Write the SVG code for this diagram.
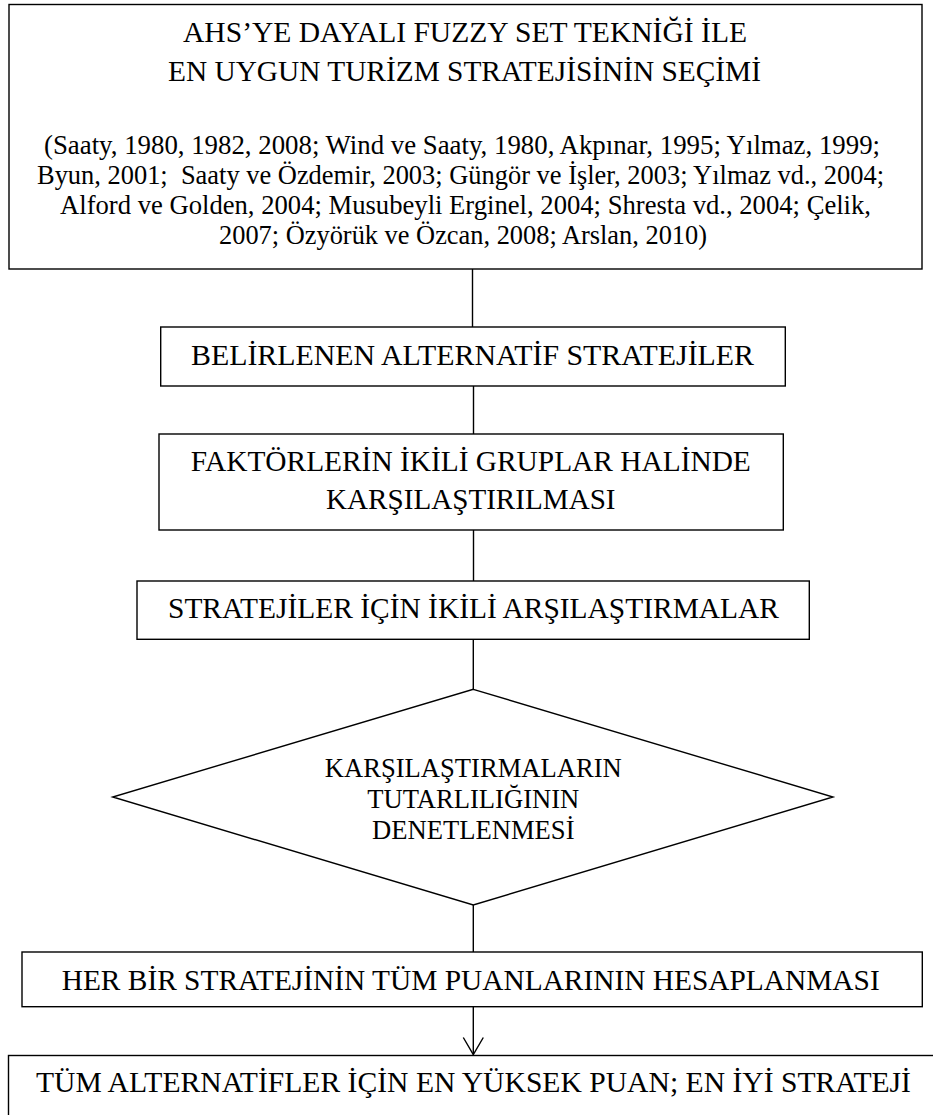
<svg xmlns="http://www.w3.org/2000/svg" width="933" height="1115" viewBox="0 0 933 1115">
<defs>
<style>
.box{fill:#fff;stroke:#000;stroke-width:1.4}
.con{fill:none;stroke:#000;stroke-width:1.4}
.t{font-family:"Liberation Serif","Times New Roman",serif;font-size:29.2px;fill:#000;text-anchor:middle}
.c{font-family:"Liberation Serif","Times New Roman",serif;font-size:26.6px;fill:#000;text-anchor:middle;white-space:pre}
</style>
<marker id="arr" markerUnits="userSpaceOnUse" viewBox="-19 -12 21 24" refX="0" refY="0" markerWidth="21" markerHeight="24" orient="auto" overflow="visible">
<path d="M-17,-10 L0,0 L-17,10" fill="none" stroke="#000" stroke-width="1.4"/>
</marker>
</defs>
<rect width="933" height="1115" fill="#fff"/>
<g id="connectors">
<line class="con" x1="472.5" y1="269" x2="472.5" y2="327"/>
<line class="con" x1="473.5" y1="386" x2="473.5" y2="434"/>
<line class="con" x1="473.5" y1="530" x2="473.5" y2="581"/>
<line class="con" x1="473.3" y1="639" x2="473.3" y2="689"/>
<line class="con" x1="473.3" y1="905" x2="473.3" y2="952"/>
<line class="con" x1="473.3" y1="1006.7" x2="473.3" y2="1054.5" marker-end="url(#arr)"/>
</g>
<g id="node-title">
<rect class="box" x="9" y="4.5" width="913" height="264.5"/>
<text class="t" x="465" y="41.5" textLength="564" lengthAdjust="spacingAndGlyphs">AHS’YE DAYALI FUZZY SET TEKNİĞİ İLE</text>
<text class="t" x="464.5" y="80.5" textLength="593" lengthAdjust="spacingAndGlyphs">EN UYGUN TURİZM STRATEJİSİNİN SEÇİMİ</text>
<text class="c" x="462" y="154" textLength="836" lengthAdjust="spacingAndGlyphs">(Saaty, 1980, 1982, 2008; Wind ve Saaty, 1980, Akpınar, 1995; Yılmaz, 1999;</text>
<text class="c" x="460.5" y="184" textLength="847" lengthAdjust="spacingAndGlyphs" xml:space="preserve">Byun, 2001;  Saaty ve Özdemir, 2003; Güngör ve İşler, 2003; Yılmaz vd., 2004;</text>
<text class="c" x="465.5" y="214" textLength="811" lengthAdjust="spacingAndGlyphs">Alford ve Golden, 2004; Musubeyli Erginel, 2004; Shresta vd., 2004; Çelik,</text>
<text class="c" x="463" y="244" textLength="488" lengthAdjust="spacingAndGlyphs">2007; Özyörük ve Özcan, 2008; Arslan, 2010)</text>
</g>
<g id="node-alternatives">
<rect class="box" x="160.7" y="327" width="624.6" height="59"/>
<text class="t" x="472.5" y="365" textLength="563" lengthAdjust="spacingAndGlyphs">BELİRLENEN ALTERNATİF STRATEJİLER</text>
</g>
<g id="node-factors">
<rect class="box" x="159" y="434" width="624.3" height="96"/>
<text class="t" x="470.8" y="471" textLength="560" lengthAdjust="spacingAndGlyphs">FAKTÖRLERİN İKİLİ GRUPLAR HALİNDE</text>
<text class="t" x="470.8" y="508.5" textLength="289.5" lengthAdjust="spacingAndGlyphs">KARŞILAŞTIRILMASI</text>
</g>
<g id="node-pairwise">
<rect class="box" x="137" y="581" width="672.3" height="58.3"/>
<text class="t" x="473.5" y="618" textLength="611" lengthAdjust="spacingAndGlyphs">STRATEJİLER İÇİN İKİLİ ARŞILAŞTIRMALAR</text>
</g>
<g id="node-consistency">
<polygon class="box" points="473.3,689.3 833,797 473.3,905 112.7,797"/>
<text class="c" x="473.3" y="777.3">KARŞILAŞTIRMALARIN</text>
<text class="c" x="473.3" y="807.5">TUTARLILIĞININ</text>
<text class="c" x="473.3" y="838.5">DENETLENMESİ</text>
</g>
<g id="node-scores">
<rect class="box" x="22" y="952" width="900.3" height="54.7"/>
<text class="t" x="470.7" y="990" textLength="818" lengthAdjust="spacingAndGlyphs">HER BİR STRATEJİNİN TÜM PUANLARININ HESAPLANMASI</text>
</g>
<g id="node-best">
<rect class="box" x="8.5" y="1055.5" width="940" height="90"/>
<text class="t" x="473.5" y="1092" textLength="875" lengthAdjust="spacingAndGlyphs">TÜM ALTERNATİFLER İÇİN EN YÜKSEK PUAN; EN İYİ STRATEJİ</text>
</g>
</svg>
